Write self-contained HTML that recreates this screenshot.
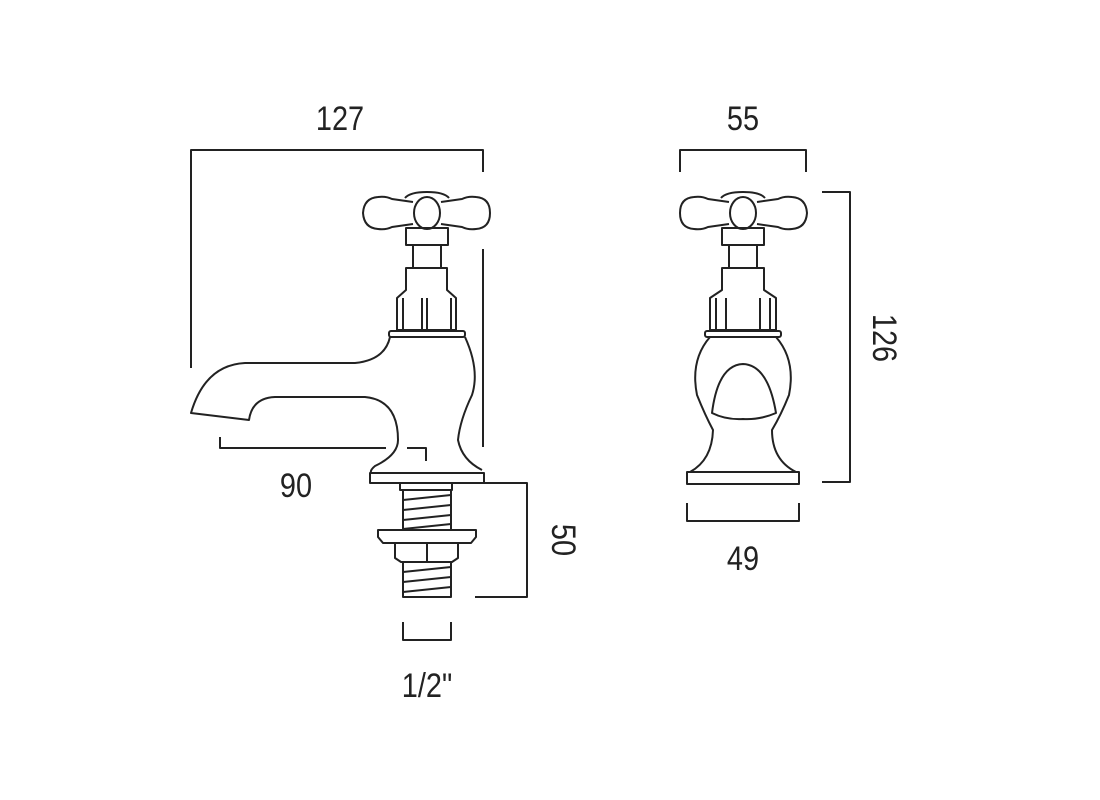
<!DOCTYPE html>
<html><head><style>html,body{margin:0;padding:0;background:#fff}svg{display:block}</style></head><body>
<svg width="1100" height="800" viewBox="0 0 1100 800" xmlns="http://www.w3.org/2000/svg">
<g fill="none" stroke="#222" stroke-width="2" stroke-linejoin="round">
<!-- dims left -->
<path d="M191 368V150H483V172"/>
<path d="M483 249V447"/>
<path d="M220 437V448H386M407 448H426V461"/>
<path d="M475 483H527V597H475"/>
<path d="M403 622V640H451V622"/>
<!-- dims right -->
<path d="M680 172V150H806V172"/>
<path d="M822 192H850V482H822"/>
<path d="M687 503V521H799V503"/>

<!-- LEFT TAP handle -->
<path d="M405 198Q410 192 427 192Q444 192 449 198"/>
<path d="M413 202L392 199Q386 196 378 197Q364 198 363 213Q364 228 378 229Q386 230 392 227L413 224"/>
<path d="M441 202L462 199Q468 196 476 197Q490 198 490 213Q490 228 476 229Q468 230 462 227L441 224"/>
<ellipse cx="427" cy="213" rx="13" ry="16"/>
<rect x="406" y="228" width="42" height="17"/>
<path d="M413 245V268M441 245V268"/>
<path d="M406 268H447V290L456 298V330H397V298L406 290Z"/>
<path d="M403 298V330M422 298V330M427 298V330M451 298V330"/>
<rect x="389" y="331" width="76" height="6" rx="2"/>
<!-- body + spout -->
<path d="M390 337Q385 360 355 363H245Q205 365 191 413L249 420Q252 398 275 397H365Q398 400 398 440Q398 455 375 466Q370 470 371 473"/>
<path d="M465 337Q480 370 472 395Q460 420 458 440Q462 460 482 470"/>
<path d="M370 473H484V483H370Z"/>
<!-- threaded -->
<rect x="400" y="483" width="52" height="7"/>
<rect x="403" y="490" width="48" height="40"/>
<path d="M403 500L451 495M403 510L451 505M403 520L451 515M403 529L451 524"/>
<path d="M378 530H476V537L471 543H383L378 537Z"/>
<path d="M395 543H458V558L452 562H401L395 558ZM427 543V562"/>
<rect x="403" y="562" width="48" height="35"/>
<path d="M403 572L451 567M403 582L451 577M403 592L451 587"/>

<!-- RIGHT TAP -->
<path d="M721 198Q726 192 743 192Q760 192 765 198"/>
<path d="M729 202L708 199Q702 196 694 197Q680 198 680 213Q680 228 694 229Q702 230 708 227L729 224"/>
<path d="M757 202L778 199Q784 196 792 197Q806 198 807 213Q806 228 792 229Q784 230 778 227L757 224"/>
<ellipse cx="743" cy="213" rx="13" ry="16"/>
<rect x="722" y="228" width="42" height="17"/>
<path d="M729 245V268M757 245V268"/>
<path d="M722 268H764V290L776 298V330H710V298L722 290Z"/>
<path d="M716 298V330M726 298V330M760 298V330M770 298V330"/>
<rect x="705" y="331" width="76" height="6" rx="2"/>
<path d="M710 337Q690 360 697 395Q705 415 713 430Q712 460 690 472"/>
<path d="M776 337Q796 360 789 395Q781 415 772 430Q772 460 796 472"/>
<path d="M712 413Q718 365 743 364Q768 365 776 413Q760 420 743 419Q726 420 712 413Z"/>
<rect x="687" y="472" width="112" height="12"/>
</g>
<g font-family="'Liberation Sans',sans-serif" font-size="34" fill="#222" text-anchor="middle">
<text transform="translate(340 130) scale(0.85 1)">127</text>
<text transform="translate(743 130) scale(0.85 1)">55</text>
<text transform="translate(296 497) scale(0.85 1)">90</text>
<text transform="translate(743 570) scale(0.85 1)">49</text>
<text transform="translate(427 697) scale(0.85 1)">1/2"</text>
<text transform="translate(552 540) rotate(90) scale(0.85 1)">50</text>
<text transform="translate(873 338) rotate(90) scale(0.85 1)">126</text>
</g>
</svg>
</body></html>
